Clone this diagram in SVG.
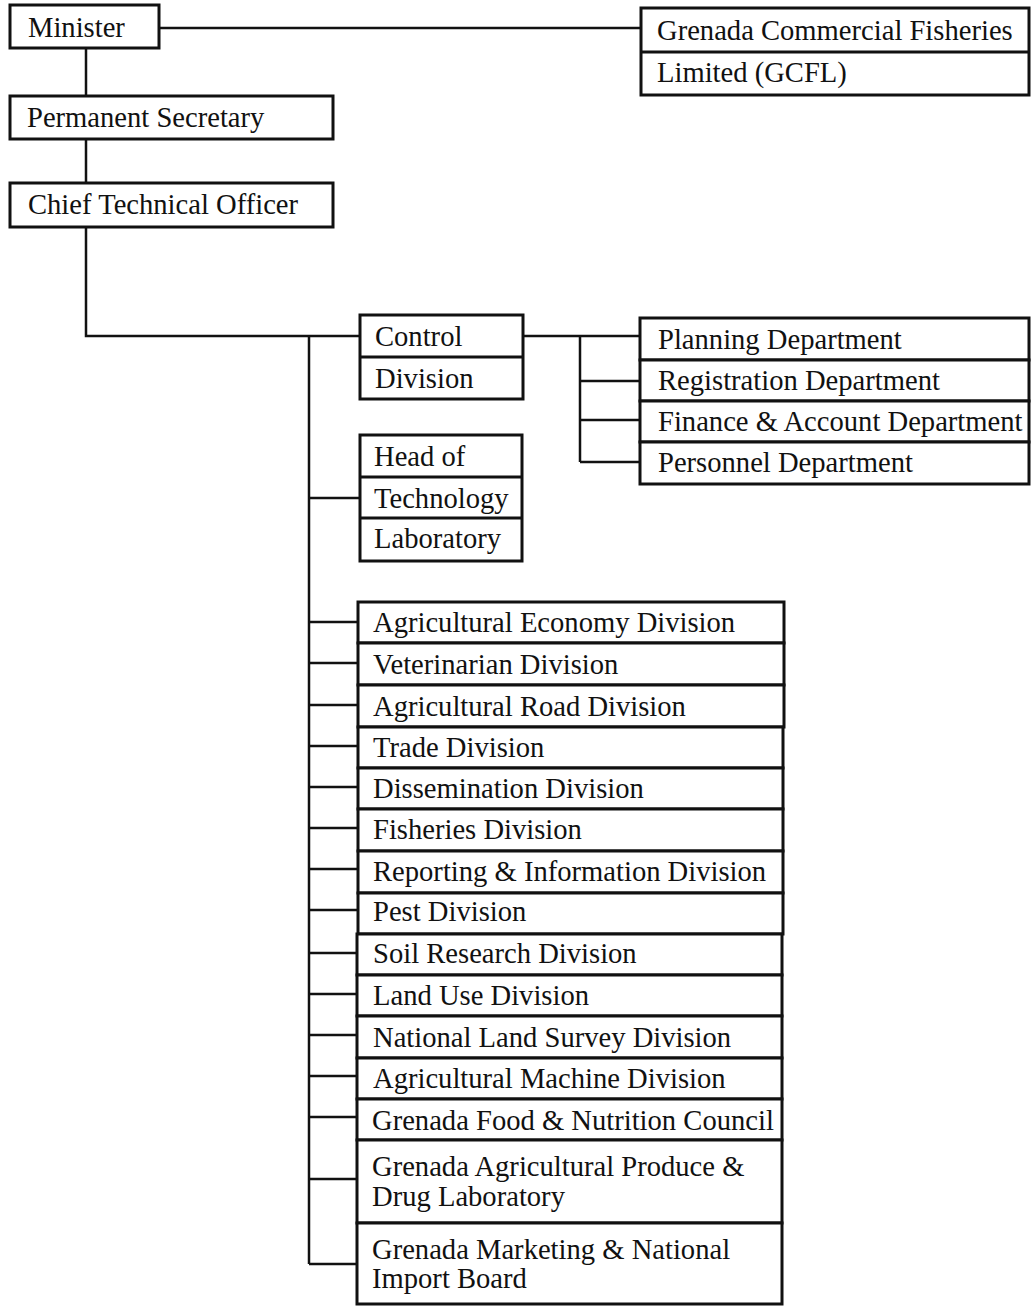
<svg xmlns="http://www.w3.org/2000/svg" width="1031" height="1307" viewBox="0 0 1031 1307">
<style>
.box{fill:#fff;stroke:#111;stroke-width:3}
.div{stroke:#111;stroke-width:3}
.t{font-family:"Liberation Serif","Times New Roman",serif;font-size:28.6px;fill:#111}
.c{fill:none;stroke:#111;stroke-width:2.5}
</style>
<rect width="1031" height="1307" fill="#fff"/>
<g id="connectors">
<path class="c" d="M159 28H641"/>
<path class="c" d="M86 48V96M86 139V183M86 227V336H360"/>
<path class="c" d="M309 336V1264"/>
<path class="c" d="M523 336H640M580 336V462M580 381H640M580 420H640M580 462H640"/>
<path class="c" d="M309 498H360"/>
<path class="c" d="M309 622H358M309 663H358M309 705H358M309 746H358M309 787H358M309 828H358M309 869H358M309 910H358M309 953H358M309 994H358M309 1035H358M309 1076H358M309 1117H358M309 1179H358M309 1264H358"/>
</g>
<g id="minister"><rect class="box" x="10" y="5" width="149" height="43"/><text class="t" x="28" y="37">Minister</text></g>
<g id="gcfl"><rect class="box" x="641" y="8" width="388" height="87"/><line class="div" x1="641" y1="52" x2="1029" y2="52"/><text class="t" x="657" y="40">Grenada Commercial Fisheries</text><text class="t" x="657" y="82">Limited (GCFL)</text></g>
<g id="permsec"><rect class="box" x="10" y="96" width="323" height="43"/><text class="t" x="27" y="127">Permanent Secretary</text></g>
<g id="cto"><rect class="box" x="10" y="183" width="323" height="44"/><text class="t" x="28" y="214">Chief Technical Officer</text></g>
<g id="control"><rect class="box" x="360" y="315" width="163" height="84"/><line class="div" x1="360" y1="357" x2="523" y2="357"/><text class="t" x="375" y="346">Control</text><text class="t" x="375" y="388">Division</text></g>
<g id="headtech"><rect class="box" x="360" y="435" width="162" height="126"/><line class="div" x1="360" y1="477" x2="522" y2="477"/><line class="div" x1="360" y1="518" x2="522" y2="518"/><text class="t" x="374" y="466">Head of</text><text class="t" x="374" y="508">Technology</text><text class="t" x="374" y="548">Laboratory</text></g>
<g id="planning"><rect class="box" x="640" y="318" width="389" height="42"/><text class="t" x="658" y="349">Planning Department</text></g>
<g id="registration"><rect class="box" x="640" y="360" width="389" height="41"/><text class="t" x="658" y="390">Registration Department</text></g>
<g id="finance"><rect class="box" x="640" y="401" width="389" height="41"/><text class="t" x="658" y="431">Finance &amp; Account Department</text></g>
<g id="personnel"><rect class="box" x="640" y="442" width="389" height="42"/><text class="t" x="658" y="472">Personnel Department</text></g>
<g id="agecon"><rect class="box" x="358" y="602" width="426" height="41"/><text class="t" x="373" y="632">Agricultural Economy Division</text></g>
<g id="vet"><rect class="box" x="358" y="643" width="426" height="42"/><text class="t" x="373" y="674">Veterinarian Division</text></g>
<g id="agroad"><rect class="box" x="358" y="685" width="426" height="42"/><text class="t" x="373" y="716">Agricultural Road Division</text></g>
<g id="trade"><rect class="box" x="358" y="727" width="425" height="41"/><text class="t" x="373" y="757">Trade Division</text></g>
<g id="dissem"><rect class="box" x="358" y="768" width="425" height="41"/><text class="t" x="373" y="798">Dissemination Division</text></g>
<g id="fisheries"><rect class="box" x="358" y="809" width="425" height="42"/><text class="t" x="373" y="839">Fisheries Division</text></g>
<g id="reporting"><rect class="box" x="358" y="851" width="425" height="42"/><text class="t" x="373" y="881">Reporting &amp; Information Division</text></g>
<g id="pest"><rect class="box" x="358" y="893" width="425" height="41"/><text class="t" x="373" y="921">Pest Division</text></g>
<g id="soil"><rect class="box" x="357" y="934" width="425" height="41"/><text class="t" x="373" y="963">Soil Research Division</text></g>
<g id="landuse"><rect class="box" x="357" y="975" width="425" height="41"/><text class="t" x="373" y="1005">Land Use Division</text></g>
<g id="survey"><rect class="box" x="357" y="1016" width="425" height="42"/><text class="t" x="373" y="1047">National Land Survey Division</text></g>
<g id="machine"><rect class="box" x="357" y="1058" width="425" height="41"/><text class="t" x="373" y="1088">Agricultural Machine Division</text></g>
<g id="food"><rect class="box" x="357" y="1099" width="425" height="41"/><text class="t" x="372" y="1130">Grenada Food &amp; Nutrition Council</text></g>
<g id="produce"><rect class="box" x="357" y="1140" width="425" height="83"/><text class="t" x="372" y="1176">Grenada Agricultural Produce &amp;</text><text class="t" x="372" y="1206">Drug Laboratory</text></g>
<g id="marketing"><rect class="box" x="357" y="1223" width="425" height="81"/><text class="t" x="372" y="1259">Grenada Marketing &amp; National</text><text class="t" x="372" y="1288">Import Board</text></g>
</svg>
